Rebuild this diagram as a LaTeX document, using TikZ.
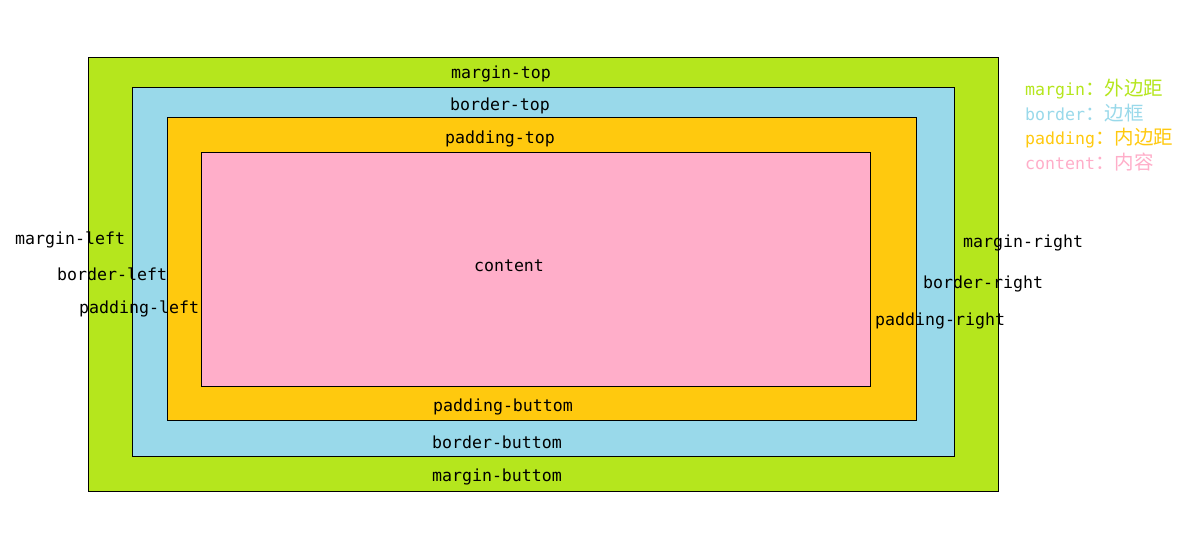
\documentclass[tikz,border=0pt]{standalone}
\usepackage{fontspec}
\setmonofont{DejaVu Sans Mono}
\newfontfamily\cjk{Noto Sans CJK SC}
\definecolor{mgreen}{HTML}{B5E61D}
\definecolor{bblue}{HTML}{99D9EA}
\definecolor{porange}{HTML}{FFC90E}
\definecolor{cpink}{HTML}{FFAEC9}
\begin{document}
\begin{tikzpicture}[x=1pt,y=-1pt,
  layer/.style={draw=black,line width=0.8pt,inner sep=0pt,anchor=north west},
  lbl/.style={inner sep=0pt,yshift=-4pt,font=\fontsize{16.6}{18}\selectfont\ttfamily,text=black},
  lgd/.style={inner sep=0pt,yshift=-5pt,anchor=mid west,font=\fontsize{16.6}{18}\selectfont\ttfamily}]
\useasboundingbox (0,0) rectangle (1204,537);
\fill[white] (0,0) rectangle (1204,537);
\node[layer,fill=mgreen,minimum width=910pt,minimum height=434pt] (margin) at (88,57) {};
\node[layer,fill=bblue,minimum width=822pt,minimum height=369pt] (border) at (132,87) {};
\node[layer,fill=porange,minimum width=749pt,minimum height=303pt] (padding) at (167,117) {};
\node[layer,fill=cpink,minimum width=669pt,minimum height=234pt] (content) at (201,152) {};
% labels
\node[lbl,anchor=mid] (mt) at (501,72) {margin-top};
\node[lbl,anchor=mid] (bt) at (500,104) {border-top};
\node[lbl,anchor=mid] (pt) at (500,137) {padding-top};
\node[lbl,anchor=mid] (ct) at (509,265) {content};
\node[lbl,anchor=mid] (pb) at (503,405) {padding-buttom};
\node[lbl,anchor=mid] (bb) at (497,442) {border-buttom};
\node[lbl,anchor=mid] (mb) at (497,475) {margin-buttom};
\node[lbl,anchor=mid west] (ml) at (15,238) {margin-left};
\node[lbl,anchor=mid west] (bl) at (57,274) {border-left};
\node[lbl,anchor=mid west] (pl) at (79,307) {padding-left};
\node[lbl,anchor=mid west] (mr) at (963,241) {margin-right};
\node[lbl,anchor=mid west] (br) at (923,282) {border-right};
\node[lbl,anchor=mid west] (pr) at (875,319) {padding-right};
% legend
\node[lgd,text=mgreen] (lm) at (1025,88) {margin{\cjk\fontsize{19.5}{20}\selectfont ：外边距}};
\node[lgd,text=bblue] (lb) at (1025,113) {border{\cjk\fontsize{19.5}{20}\selectfont ：边框}};
\node[lgd,text=porange] (lp) at (1025,137) {padding{\cjk\fontsize{19.5}{20}\selectfont ：内边距}};
\node[lgd,text=cpink] (lc) at (1025,162) {content{\cjk\fontsize{19.5}{20}\selectfont ：内容}};
\end{tikzpicture}
\end{document}
